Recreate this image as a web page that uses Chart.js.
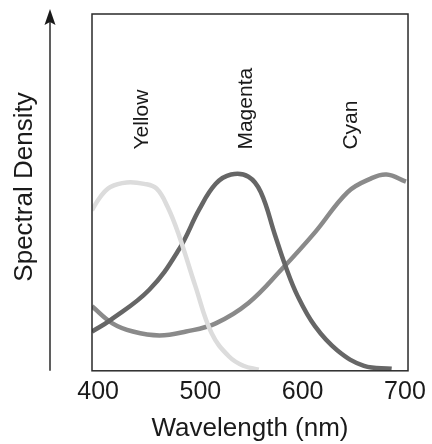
<!DOCTYPE html>
<html>
<head>
<meta charset="utf-8">
<script src="https://cdn.jsdelivr.net/npm/chart.js@4.4.0/dist/chart.umd.min.js"></script>
<style>
  html, body { margin: 0; padding: 0; background: #fff; }
  #wrap { width: 432px; height: 444px; position: relative; }
</style>
</head>
<body>
<div id="wrap"><canvas id="myChart"></canvas></div>
<script>
// wavelength (nm) / relative density
var yellowNm  = [394, 402, 412, 428, 445, 457, 468, 479, 495, 511, 528, 542, 557];
var yellowVal = [0.45, 0.487, 0.515, 0.528, 0.524, 0.511, 0.459, 0.38, 0.238, 0.105, 0.04, 0.014, 0.003];

var magentaNm  = [394, 412, 450, 479, 499, 515, 530, 547, 559, 573, 583, 595, 612, 634, 660, 687];
var magentaVal = [0.11, 0.142, 0.227, 0.34, 0.453, 0.524, 0.55, 0.544, 0.501, 0.38, 0.295, 0.21, 0.125, 0.057, 0.014, 0.006];

var cyanNm  = [394, 414, 434, 460, 486, 515, 547, 579, 612, 644, 666, 682, 701];
var cyanVal = [0.181, 0.133, 0.11, 0.099, 0.11, 0.133, 0.19, 0.283, 0.388, 0.501, 0.538, 0.55, 0.53];

var tickNm = [400, 500, 600, 700];
var curveNames = ['Yellow', 'Magenta', 'Cyan'];
var labelNm = [443, 545, 647];
var labelVal = [0.62, 0.62, 0.62];

function pts(xs, ys) {
    var out = [];
    for (var i in xs) {
        out.push({x: xs[i], y: ys[i]});
    }
    return out;
}

var font = "'Liberation Sans', Arial, Helvetica, sans-serif";

// frame, arrow, axis title and curve names
var extras = {
    id: 'extras',
    afterDraw: function (chart) {
        var ctx = chart.ctx;
        var a = chart.chartArea;
        var xs = chart.scales.x, ys = chart.scales.y;
        ctx.save();
        ctx.strokeStyle = '#2a2a2a';
        ctx.lineWidth = 1.5;
        ctx.strokeRect(a.left, a.top, a.right - a.left, a.bottom - a.top);

        // arrow
        ctx.lineWidth = 1.5;
        ctx.beginPath();
        ctx.moveTo(50, a.bottom);
        ctx.lineTo(50, 20);
        ctx.stroke();
        ctx.fillStyle = '#1a1a1a';
        ctx.beginPath();
        ctx.moveTo(50, 9);
        ctx.lineTo(44.5, 25);
        ctx.lineTo(50, 22);
        ctx.lineTo(55.5, 25);
        ctx.closePath();
        ctx.fill();

        ctx.fillStyle = '#1a1a1a';
        ctx.font = '26px ' + font;
        ctx.textAlign = 'center';
        ctx.textBaseline = 'middle';
        ctx.translate(25, 187);
        ctx.rotate(-Math.PI / 2);
        ctx.fillText('Spectral Density', 0, 0);
        ctx.restore();

        ctx.save();
        ctx.fillStyle = '#1a1a1a';
        ctx.font = '21px ' + font;
        ctx.textAlign = 'left';
        ctx.textBaseline = 'middle';
        for (var i in curveNames) {
            ctx.save();
            ctx.translate(xs.getPixelForValue(labelNm[i]), ys.getPixelForValue(labelVal[i]));
            ctx.rotate(-Math.PI / 2);
            ctx.fillText(curveNames[i], 0, 0);
            ctx.restore();
        }
        ctx.restore();
    }
};

var lineOpts = {borderWidth: 4.5, pointRadius: 0, tension: 0.4, fill: false};

new Chart(document.getElementById('myChart'), {
    type: 'line',
    data: {
        datasets: [
            Object.assign({label: 'Yellow', data: pts(yellowNm, yellowVal), borderColor: '#dcdcdc'}, lineOpts),
            Object.assign({label: 'Magenta', data: pts(magentaNm, magentaVal), borderColor: '#666666'}, lineOpts),
            Object.assign({label: 'Cyan', data: pts(cyanNm, cyanVal), borderColor: '#8a8a8a'}, lineOpts)
        ]
    },
    options: {
        responsive: true,
        maintainAspectRatio: false,
        animation: false,
        layout: {padding: {left: 92, right: 21, top: 14, bottom: 0}},
        plugins: {legend: {display: false}, tooltip: {enabled: false}},
        scales: {
            x: {
                type: 'linear',
                min: 394,
                max: 703,
                afterBuildTicks: function (axis) {
                    axis.ticks = tickNm.map(function (v) { return {value: v}; });
                },
                grid: {display: false, drawTicks: false},
                border: {display: false},
                ticks: {color: '#1a1a1a', font: {family: font, size: 25}, padding: 6, maxRotation: 0, autoSkip: false},
                title: {display: true, text: 'Wavelength (nm)', color: '#1a1a1a', font: {family: font, size: 26}, padding: {top: 0, bottom: 0}}
            },
            y: {
                display: false,
                min: 0,
                max: 1
            }
        }
    },
    plugins: [extras]
});
</script>
</body>
</html>
